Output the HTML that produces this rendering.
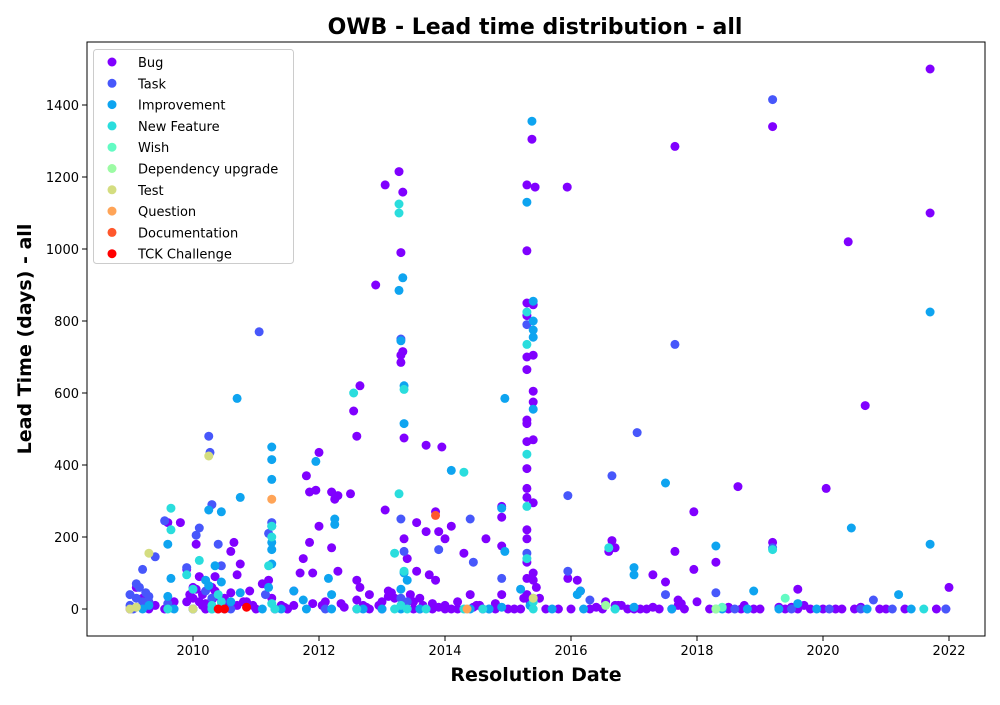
<!DOCTYPE html>
<html><head><meta charset="utf-8"><style>
body{margin:0;background:#fff;font-family:"Liberation Sans","DejaVu Sans",sans-serif}
svg text{font-family:"DejaVu Sans","Liberation Sans",sans-serif}
</style></head><body>
<svg id="c" width="1000" height="700"></svg>
<script>
const categories=["Bug","Task","Improvement","New Feature","Wish","Dependency upgrade","Test","Question","Documentation","TCK Challenge"];
const colors=["#8000ff","#4757fb","#0ea4f0","#2adddd","#63fbc3","#9cfba4","#d4dd80","#ffa457","#ff572c","#ff0000"];
const xTicks=[2010,2012,2014,2016,2018,2020,2022];
const yTicks=[0,200,400,600,800,1000,1200,1400];
const bugDates=[2009.0,2009.1,2009.2,2009.3,2009.4,2009.55,2009.6,2009.7,2009.8,2009.9,2009.95,2010.0,2010.05,2010.1,2010.15,2010.2,2010.3,2010.35,2010.5,2010.6,2010.65,2010.7,2010.75,2010.8,2010.9,2011.0,2011.1,2011.2,2011.25,2011.3,2011.5,2011.6,2011.7,2011.75,2011.8,2011.85,2011.85,2011.9,2011.95,2012.0,2012.0,2012.2,2012.2,2012.25,2012.3,2012.3,2012.5,2012.55,2012.6,2012.65,2012.6,2012.65,2012.8,2012.9,2012.95,2013.05,2013.05,2013.1,2013.2,2013.27,2013.3,2013.3,2013.3,2013.33,2013.33,2013.35,2013.35,2013.4,2013.45,2013.55,2013.55,2013.7,2013.7,2013.75,2013.85,2013.85,2013.9,2013.95,2014.0,2014.1,2014.3,2014.4,2014.5,2014.65,2014.9,2014.9,2014.9,2014.9,2015.2,2015.3,2015.3,2015.3,2015.3,2015.3,2015.3,2015.3,2015.3,2015.3,2015.3,2015.3,2015.3,2015.3,2015.3,2015.3,2015.3,2015.3,2015.38,2015.4,2015.4,2015.4,2015.4,2015.4,2015.4,2015.4,2015.4,2015.43,2015.5,2015.94,2015.95,2016.1,2016.15,2016.6,2016.65,2016.7,2016.8,2017.0,2017.3,2017.5,2017.65,2017.65,2017.7,2017.95,2017.95,2018.0,2018.3,2018.65,2019.2,2019.2,2019.6,2020.05,2020.4,2020.67,2021.7,2021.7,2022.0,
2010.0,2010.2,2010.4,2011.5,2012.6,2012.8,2013.0,2013.5,2013.6,2013.8,2014.0,2014.2,2014.6,2014.8,2015.0,2015.1,2015.6,2015.8,2016.0,2016.3,2016.5,2016.9,2017.1,2017.2,2017.4,2017.6,2017.8,2018.2,2018.5,2018.7,2018.9,2019.0,2019.4,2019.6,2019.8,2020.0,2020.2,2020.5,2020.9,2021.0,2021.3,2021.8,2021.95,2011.6,2012.4,2013.9,2014.1,2016.7,2017.3,2018.8,2019.5,2020.3,
2009.9,2009.95,2010.0,2010.05,2010.1,2010.15,2010.2,2010.3,2010.35,2010.4,2010.45,2010.55,2010.6,2010.7,2010.85,2010.95,2011.4,2011.45,2011.9,2012.05,2012.1,2012.35,2012.6,2012.7,2012.75,2013.0,2013.1,2013.15,2013.5,2013.6,2013.65,2013.8,2014.0,2014.2,2014.45,2014.55,2014.8,2015.25,2015.35,2015.45,2016.4,2016.55,2016.75,2017.7,2017.75,2018.5,2018.75,2019.3,2019.7,2020.6];
const bugDays=[0,60,30,0,10,0,240,20,240,110,40,60,180,90,10,0,60,90,30,160,185,95,125,20,50,0,70,80,30,0,0,50,100,140,370,325,185,100,330,435,230,325,170,305,105,315,320,550,480,620,80,60,40,900,10,1178,275,50,30,1215,990,685,705,715,1158,475,195,140,40,240,105,455,215,95,80,270,215,450,195,230,155,40,10,195,285,255,175,40,0,1178,995,850,815,700,665,525,515,465,390,335,310,220,195,130,85,40,1305,845,705,605,575,470,295,100,80,1172,30,1172,85,80,50,160,190,170,10,0,95,75,1285,160,25,270,110,20,130,340,1340,185,55,335,1020,565,1500,1100,60,
0,0,0,0,0,0,0,0,0,0,0,0,0,0,0,0,0,0,0,0,0,0,0,0,0,0,0,0,0,0,0,0,0,0,0,0,0,0,0,0,0,0,0,10,5,5,0,10,5,0,5,0,
20,40,30,55,20,40,15,25,50,35,20,15,45,10,20,10,10,5,15,10,20,15,25,10,5,20,35,45,20,30,10,15,10,20,5,10,15,30,20,60,5,20,10,10,15,5,10,5,10,5];
const taskDates=[2009.0,2009.1,2009.2,2009.4,2009.55,2009.9,2010.05,2010.1,2010.25,2010.27,2010.3,2010.4,2010.45,2011.05,2011.2,2011.25,2013.3,2013.3,2013.35,2013.9,2014.4,2014.45,2014.9,2015.3,2015.3,2015.95,2015.95,2016.65,2017.05,2017.65,2017.5,2018.3,2019.2,2019.2,2020.8,2021.95,2009.05,2009.3,2010.6,2012.1,2014.7,2016.3,2018.6,2019.5,2020.1,2020.6,2021.1,
2009.1,2009.15,2009.2,2009.25,2009.0,2009.3,2009.6,2010.2,2010.3,2011.15,2013.3,2013.4];
const taskDays=[40,70,110,145,245,115,205,225,480,435,290,180,120,770,210,240,750,250,160,165,250,130,85,155,790,315,105,370,490,735,40,45,1415,170,25,0,0,20,0,0,0,25,0,0,0,0,0,
30,60,20,45,10,35,15,50,30,40,30,20];
const impDates=[2009.6,2009.65,2010.25,2010.45,2010.7,2010.75,2011.25,2011.25,2011.25,2011.25,2011.95,2012.25,2012.25,2013.27,2013.33,2013.35,2013.35,2013.3,2014.1,2014.95,2014.95,2014.9,2015.3,2015.38,2015.4,2015.4,2015.4,2015.4,2015.4,2015.2,2016.1,2017.0,2017.0,2017.5,2018.3,2018.9,2020.45,2021.7,2021.7,2021.2,2019.6,
2009.2,2009.7,2010.0,2010.3,2010.5,2011.1,2011.4,2011.8,2012.2,2012.7,2013.0,2013.3,2013.6,2014.4,2014.7,2015.7,2016.2,2016.7,2017.6,2018.4,2018.8,2019.3,2019.9,2020.7,2021.4,
2009.6,2009.3,2010.2,2010.25,2010.35,2010.45,2010.6,2010.75,2011.25,2011.25,2011.25,2011.2,2011.6,2011.75,2012.15,2012.2,2013.3,2013.35,2013.4,2014.9,2015.35,2015.4,2015.4,2016.15,2017.0];
const impDays=[180,85,275,270,585,310,450,415,360,165,410,250,235,885,920,515,620,745,385,585,160,280,1130,1355,855,800,775,755,555,55,40,115,95,350,175,50,225,825,180,40,15,
0,0,0,0,0,0,0,0,0,0,0,0,0,0,0,0,0,0,0,0,0,0,0,0,0,
35,10,80,65,120,75,20,45,230,185,125,60,50,25,85,40,55,100,80,5,10,30,20,50,5];
const nfDates=[2009.65,2009.65,2010.1,2011.25,2011.25,2011.2,2012.55,2013.27,2013.27,2013.27,2013.35,2013.35,2013.2,2014.3,2015.3,2015.3,2015.3,2015.3,2015.3,2016.6,2019.2,2018.3,2009.9,2010.4,2009.6,2010.3,2011.3,2012.6,2013.2,2013.4,2013.7,2014.3,2014.6,2015.4,2016.7,2021.6,
2010.3,2010.45,2010.0,2011.25,2013.3,2015.4];
const nfDays=[280,220,135,230,200,120,600,1125,1100,320,610,105,155,380,825,735,430,285,140,170,165,0,95,40,0,0,0,0,0,0,0,0,0,0,0,0,
10,20,55,15,10,20];
const wishDates=[2019.4,2018.4];const wishDays=[30,5];
const depDates=[2016.55,2018.3];const depDays=[10,0];
const testDates=[2009.3,2010.25,2009.0,2009.1,2010.0,2015.4];const testDays=[155,425,0,5,0,30];
const qDates=[2011.25,2014.35];const qDays=[305,0];
const docDates=[2013.85];const docDays=[260];
const tckDates=[2010.4,2010.5,2010.85];const tckDays=[0,0,5];
const seriesDates=[bugDates,taskDates,impDates,nfDates,wishDates,depDates,testDates,qDates,docDates,tckDates];
const seriesDays=[bugDays,taskDays,impDays,nfDays,wishDays,depDays,testDays,qDays,docDays,tckDays];

const svg=document.getElementById('c');const NS='http://www.w3.org/2000/svg';
const L=87,R=985,T=42,B=636;
const xS=v=>193+(v-2010)*63;
const yS=v=>609-v*0.36;
function mk(t,a,p){const e=document.createElementNS(NS,t);for(const k in a)e.setAttribute(k,a[k]);(p||svg).appendChild(e);return e;}
const title=mk('text',{x:535,y:34,'text-anchor':'middle','font-size':22,'font-weight':'bold'});title.textContent='OWB - Lead time distribution - all';


const pts=mk('g',{});


for(let s=0;s<seriesDates.length;s++){
  const d=seriesDates[s],v=seriesDays[s];
  for(let i=0;i<d.length;i++){
    const c=mk('circle',{cx:xS(d[i]),cy:yS(v[i]),r:4.5,fill:colors[s]},pts);
    
    
  }
}
const frame=mk('rect',{x:L,y:T,width:R-L,height:B-T,fill:'none',stroke:'#000','stroke-width':1});


xTicks.forEach(t=>{const x=xS(t);mk('line',{x1:x,x2:x,y1:B,y2:B+5,stroke:'#000'});
  const tx=mk('text',{x:x,y:B+19,'text-anchor':'middle','font-size':13});tx.textContent=t;
  
  });
yTicks.forEach(t=>{const y=yS(t);mk('line',{x1:L-5,x2:L,y1:y,y2:y,stroke:'#000'});
  const tx=mk('text',{x:L-8,y:y+5,'text-anchor':'end','font-size':13});tx.textContent=t;
  
  });
const xt=mk('text',{x:536,y:681,'text-anchor':'middle','font-size':19,'font-weight':'bold'});xt.textContent='Resolution Date';


const yt=mk('text',{x:0,y:0,'text-anchor':'middle','font-size':19,'font-weight':'bold',transform:'translate(31,339) rotate(-90)'});yt.textContent='Lead Time (days) - all';


const lg=mk('g',{});


mk('rect',{x:93.5,y:49.5,width:200,height:214,rx:3,fill:'#fff','fill-opacity':0.8,stroke:'#ccc'},lg);
categories.forEach((c,i)=>{const y=62+i*21.3;
  const m=mk('circle',{cx:112,cy:y,r:4.5,fill:colors[i]},lg);
  
  
  const t=mk('text',{x:138,y:y+5,'font-size':13},lg);t.textContent=c;
  
  });
</script>
</body></html>
